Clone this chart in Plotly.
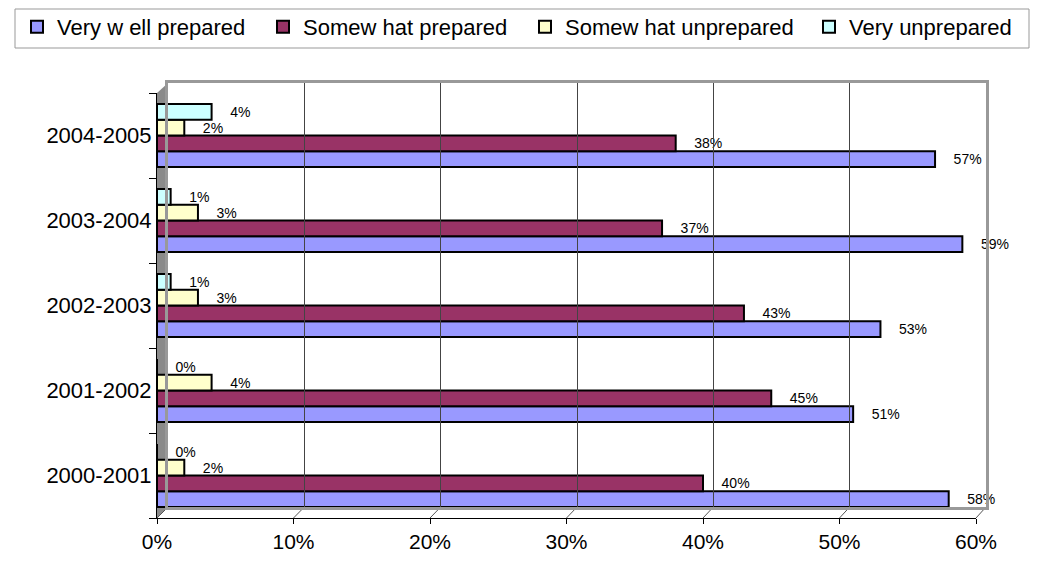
import plotly.graph_objects as go

years = ["2000-2001", "2001-2002", "2002-2003", "2003-2004", "2004-2005"]
series_names = ["Very w ell prepared", "Somew hat prepared", "Somew hat unprepared", "Very unprepared"]
very_well = [58, 51, 53, 59, 57]
somewhat_prepared = [40, 45, 43, 37, 38]
somewhat_unprepared = [2, 4, 3, 3, 2]
very_unprepared = [0, 0, 1, 1, 4]
colors = ["#9999FF", "#993366", "#FFFFCC", "#CCFFFF"]
x_ticks = [0, 10, 20, 30, 40, 50, 60]

# page body margin offsets the figure by 8px; work in screen pixels
OFF = 8
W, H = 1038 - 2 * OFF, 561 - 2 * OFF
L_s, R_s, T_s, B_s = 157, 986, 83, 518      # screen pixels of plot box
L, T = L_s - OFF, T_s - OFF
R = W - (R_s - OFF)
B = H - (B_s - OFF)
PW, PH = W - L - R, H - T - B

def px(p):
    return (p - OFF - L) / PW

def py(p):
    return (H - B - (p - OFF)) / PH

legend_ids = ["legend", "legend2", "legend3", "legend4"]
legend_text_start = [57, 303, 565, 849]

fig = go.Figure()
for name, vals, col, lid in zip(series_names,
                                [very_well, somewhat_prepared, somewhat_unprepared, very_unprepared],
                                colors, legend_ids):
    fig.add_trace(go.Bar(
        y=years, x=vals, name=name, orientation="h", legend=lid,
        marker=dict(color=col, line=dict(color="black", width=2)),
        text=[f"\u00a0\u00a0\u00a0\u00a0{v}%" for v in vals],
        textposition="outside", constraintext="none", cliponaxis=False,
        textfont=dict(family="Liberation Sans, Arial", size=14, color="black"),
        hoverinfo="skip",
    ))

# invisible trace for the back wall axes
fig.add_trace(go.Scatter(x=[0], y=[0], xaxis="x2", yaxis="y2", mode="markers",
                         marker=dict(opacity=0), showlegend=False, hoverinfo="skip"))

front_x1 = px(976)
back_x0 = px(168)
back_y0 = py(507)
top_front = py(93)

shapes = []
# left wall
shapes.append(dict(type="path", xref="paper", yref="paper", layer="below",
                   path=f"M 0 0 L {back_x0} {back_y0} L {back_x0} 1 L 0 {top_front} Z",
                   fillcolor="#8a8a8a", line=dict(width=0)))
# floor diagonal ticks
for t in x_ticks:
    fx = t / 60 * front_x1
    bx = back_x0 + t / 60 * (1 - back_x0)
    shapes.append(dict(type="line", xref="paper", yref="paper", layer="below",
                       x0=fx, y0=0, x1=bx, y1=back_y0, line=dict(color="#555555", width=1)))
# legend box
shapes.append(dict(type="rect", xref="paper", yref="paper",
                   x0=px(15), x1=px(1029), y0=py(48), y1=py(9),
                   line=dict(color="#999999", width=1), fillcolor="rgba(0,0,0,0)"))
fig.update_layout(shapes=shapes)

legend_style = dict(orientation="h", xanchor="left", yanchor="middle",
                    font=dict(size=22), bgcolor="rgba(0,0,0,0)", itemclick=False,
                    borderwidth=0)
legends = {}
for lid, ts in zip(legend_ids, legend_text_start):
    legends[lid] = dict(legend_style, x=px(ts - 40), y=py(27))

fig.update_layout(
    width=W, height=H,
    margin=dict(l=L, r=R, t=T, b=B, pad=0, autoexpand=False),
    paper_bgcolor="white", plot_bgcolor="rgba(0,0,0,0)",
    barmode="group", bargap=0.26, bargroupgap=0,
    font=dict(family="Liberation Sans, Arial", color="black"),
    xaxis=dict(domain=[0, front_x1], range=[0, 60], tickvals=x_ticks,
               ticktext=[f"{t}%" for t in x_ticks], showgrid=False, zeroline=False,
               showline=True, linecolor="black", linewidth=1,
               ticks="outside", ticklen=5, tickcolor="black",
               tickfont=dict(size=21), fixedrange=True),
    yaxis=dict(domain=[0, top_front], categoryorder="array", categoryarray=years,
               showgrid=False, zeroline=False, showline=True, linecolor="black",
               linewidth=1, ticks="outside", tickson="boundaries", ticklen=7,
               tickcolor="black", tickfont=dict(size=22), fixedrange=True),
    xaxis2=dict(domain=[back_x0, 1], anchor="y2", range=[0, 60], dtick=10,
                showgrid=True, gridcolor="#444444", gridwidth=1,
                showticklabels=False, zeroline=False, showline=True, mirror=True,
                linecolor="#999999", linewidth=3, ticks=""),
    yaxis2=dict(domain=[back_y0, 1], anchor="x2", range=[0, 1], showgrid=False,
                showticklabels=False, zeroline=False, showline=True, mirror=True,
                linecolor="#999999", linewidth=3, ticks=""),
    showlegend=True,
    **legends,
)

fig.write_html("out.html")
